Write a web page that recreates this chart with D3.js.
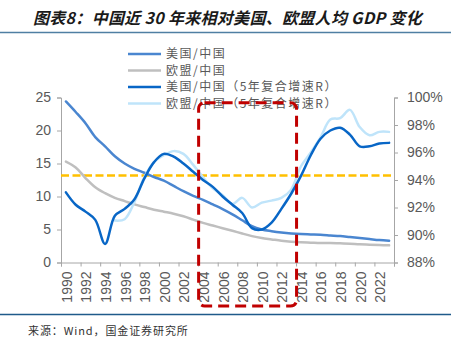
<!DOCTYPE html>
<html>
<head>
<meta charset="utf-8">
<script src="https://cdn.jsdelivr.net/npm/d3@7"></script>
<style>
  body { margin: 0; background: #fff; }
  svg { display: block; }
  .tick text { fill: #595959; font-family: "Liberation Sans", Arial, sans-serif; font-size: 14px; }
  .domain, .tick line { stroke: #a6a6a6; }
</style>
</head>
<body>
<svg id="chart" width="462" height="345"></svg>
<script>
var years = [1990, 1991, 1992, 1993, 1994, 1995, 1996, 1997, 1998, 1999,
  2000, 2001, 2002, 2003, 2004, 2005, 2006, 2007, 2008, 2009,
  2010, 2011, 2012, 2013, 2014, 2015, 2016, 2017, 2018, 2019,
  2020, 2021, 2022, 2023]

// 美国/中国 (left)
var usChina = [24.4, 22.8, 21.1, 19.0, 17.6, 16.1, 15.0, 14.2, 13.6, 12.95,
  12.4, 11.6, 10.8, 10.1, 9.5, 8.8, 8.1, 7.3, 6.4, 5.5,
  5.0, 4.75, 4.55, 4.4, 4.3, 4.25, 4.2, 4.1, 4.0, 3.85,
  3.7, 3.55, 3.4, 3.3]

// 欧盟/中国 (left)
var euChina = [15.3, 14.4, 12.8, 11.4, 10.5, 9.8, 9.3, 8.8, 8.4, 8.0,
  7.7, 7.4, 7.0, 6.5, 6.0, 5.6, 5.2, 4.8, 4.4, 4.0,
  3.7, 3.5, 3.3, 3.15, 3.05, 3.0, 2.95, 2.95, 2.9, 2.85,
  2.75, 2.7, 2.65, 2.6]

// 美国/中国（5年复合增速R） (right, %)
var usCagr = [93.1, 92.2, 91.7, 91.1, 89.35, 91.4, 91.9, 92.6, 94.1, 95.3,
  95.9, 95.7, 95.2, 94.6, 94.0, 93.5, 92.8, 92.2, 91.6, 90.5,
  90.4, 90.9, 91.9, 93.0, 94.3, 95.8, 97.0, 97.6, 97.8, 97.3,
  96.45, 96.45, 96.65, 96.7]

// 欧盟/中国（5年复合增速R） (right, %)
var euCagr = [null, null, null, null, null, 91.05, 91.15, 92.4, 94.2, 95.3,
  95.8, 96.1, 95.9, 95.1, 94.2, 93.4, 92.9, 92.25, 92.7, 92.0,
  92.35, 92.5, 92.7, 93.3, 95.0, 96.0, 97.1, 98.4, 98.5, 99.1,
  97.85, 97.25, 97.5, 97.5]

var leftTicks = [0, 5, 10, 15, 20, 25]
var rightTicks = [88, 90, 92, 94, 96, 98, 100]
var xLabelYears = [1990, 1992, 1994, 1996, 1998, 2000, 2002, 2004, 2006, 2008,
  2010, 2012, 2014, 2016, 2018, 2020, 2022]
var refLevel = 13.2
var boxYears = [2004, 2013]

var seriesNames = ["美国/中国", "欧盟/中国", "美国/中国（5年复合增速R）", "欧盟/中国（5年复合增速R）"]
var seriesColors = ["#4a86d0", "#bfbfbf", "#0866c6", "#bfe4fa"]

var plot = {left: 61, right: 394, top: 97.5, bottom: 262.5}

var svg = d3.select("#chart")

var x = d3.scaleBand().domain(years).range([plot.left, plot.right]).padding(0)
var xLin = d3.scaleLinear().domain([1990, 2024]).range([plot.left, plot.right])
var yL = d3.scaleLinear().domain([0, 25]).range([plot.bottom, plot.top])
var yR = d3.scaleLinear().domain([88, 100]).range([plot.bottom, plot.top])

function cx(i) { return x(years[i]) + x.bandwidth() / 2 }

// title
svg.append("text")
  .attr("x", 33)
  .attr("y", 24)
  .attr("fill", "#1a1a1a")
  .style("font-family", "'Noto Sans CJK SC', sans-serif")
  .style("font-weight", "bold")
  .style("font-style", "italic")
  .style("font-size", "16px")
  .style("letter-spacing", "0.3px")
  .text("图表8：中国近 30 年来相对美国、欧盟人均 GDP 变化")

svg.append("line")
  .attr("x1", 0).attr("x2", 451)
  .attr("y1", 32.5).attr("y2", 32.5)
  .attr("stroke", "#4f7fa3")
  .attr("stroke-width", 1.5)

// axes
svg.append("g")
  .attr("transform", `translate(${plot.left},0)`)
  .call(d3.axisLeft(yL).tickValues(leftTicks).tickSize(4).tickPadding(6))

svg.append("g")
  .attr("transform", `translate(${plot.right},0)`)
  .call(d3.axisRight(yR).tickValues(rightTicks).tickSize(4).tickPadding(9)
    .tickFormat(function(d) { return d + "%" }))

svg.append("g")
  .attr("transform", `translate(0,${plot.bottom})`)
  .call(d3.axisBottom(xLin).tickValues(d3.range(1990, 2025, 2)).tickSize(4).tickFormat(""))

var xLabels = svg.append("g")
  .attr("transform", `translate(1,${plot.bottom})`)
  .call(d3.axisBottom(x).tickValues(xLabelYears).tickSize(0))
xLabels.select(".domain").remove()
xLabels.selectAll(".tick text")
  .attr("transform", "rotate(-90)")
  .attr("text-anchor", "end")
  .attr("x", -9)
  .attr("y", 0)
  .attr("dy", "0.35em")

// reference line
svg.append("line")
  .attr("x1", plot.left).attr("x2", plot.right)
  .attr("y1", yL(refLevel)).attr("y2", yL(refLevel))
  .attr("stroke", "#ffc000")
  .attr("stroke-width", 2.5)
  .attr("stroke-dasharray", "8,3.5")

// lines
function makeLine(scale) {
  return d3.line()
    .defined(function(d) { return d != null })
    .x(function(d, i) { return cx(i) })
    .y(function(d) { return scale(d) })
    .curve(d3.curveCatmullRom.alpha(0.5))
}

var allSeries = [
  {values: usChina, scale: yL},
  {values: euChina, scale: yL},
  {values: euCagr, scale: yR},
  {values: usCagr, scale: yR}
]
var colorFor = [seriesColors[0], seriesColors[1], seriesColors[3], seriesColors[2]]

allSeries.forEach(function(s, k) {
  svg.append("path")
    .datum(s.values)
    .attr("fill", "none")
    .attr("stroke", colorFor[k])
    .attr("stroke-width", 2.5)
    .attr("stroke-linejoin", "round")
    .attr("stroke-linecap", "round")
    .attr("d", makeLine(s.scale))
})

// legend
var legend = svg.append("g").attr("transform", "translate(128,54)")
seriesNames.forEach(function(name, i) {
  var row = legend.append("g").attr("transform", `translate(0,${i * 16.5})`)
  row.append("line")
    .attr("x1", 0).attr("x2", 33)
    .attr("stroke", seriesColors[i])
    .attr("stroke-width", 2.5)
  row.append("text")
    .attr("x", 38)
    .attr("dy", "0.36em")
    .attr("fill", "#595959")
    .style("font-family", "'Noto Sans CJK SC', sans-serif")
    .style("font-size", "12px")
    .style("letter-spacing", "1.5px")
    .text(name)
})

// highlight box 2004-2013
var bx0 = x(boxYears[0])
var bx1 = x(boxYears[1]) + x.bandwidth()
svg.append("rect")
  .attr("x", bx0 + 0.5)
  .attr("y", yL(24.2))
  .attr("width", bx1 - bx0)
  .attr("height", yL(-6.6) - yL(24.2))
  .attr("rx", 6)
  .attr("fill", "none")
  .attr("stroke", "#c00000")
  .attr("stroke-width", 3)
  .attr("stroke-dasharray", "11,6")

// footer
svg.append("line")
  .attr("x1", 0).attr("x2", 451)
  .attr("y1", 314.5).attr("y2", 314.5)
  .attr("stroke", "#1f5a8a")
  .attr("stroke-width", 1.5)

svg.append("text")
  .attr("x", 28)
  .attr("y", 335)
  .attr("fill", "#333")
  .style("font-family", "'Noto Sans CJK SC', sans-serif")
  .style("font-size", "11px")
  .style("letter-spacing", "0.9px")
  .text("来源：Wind，国金证券研究所")
</script>
</body>
</html>
